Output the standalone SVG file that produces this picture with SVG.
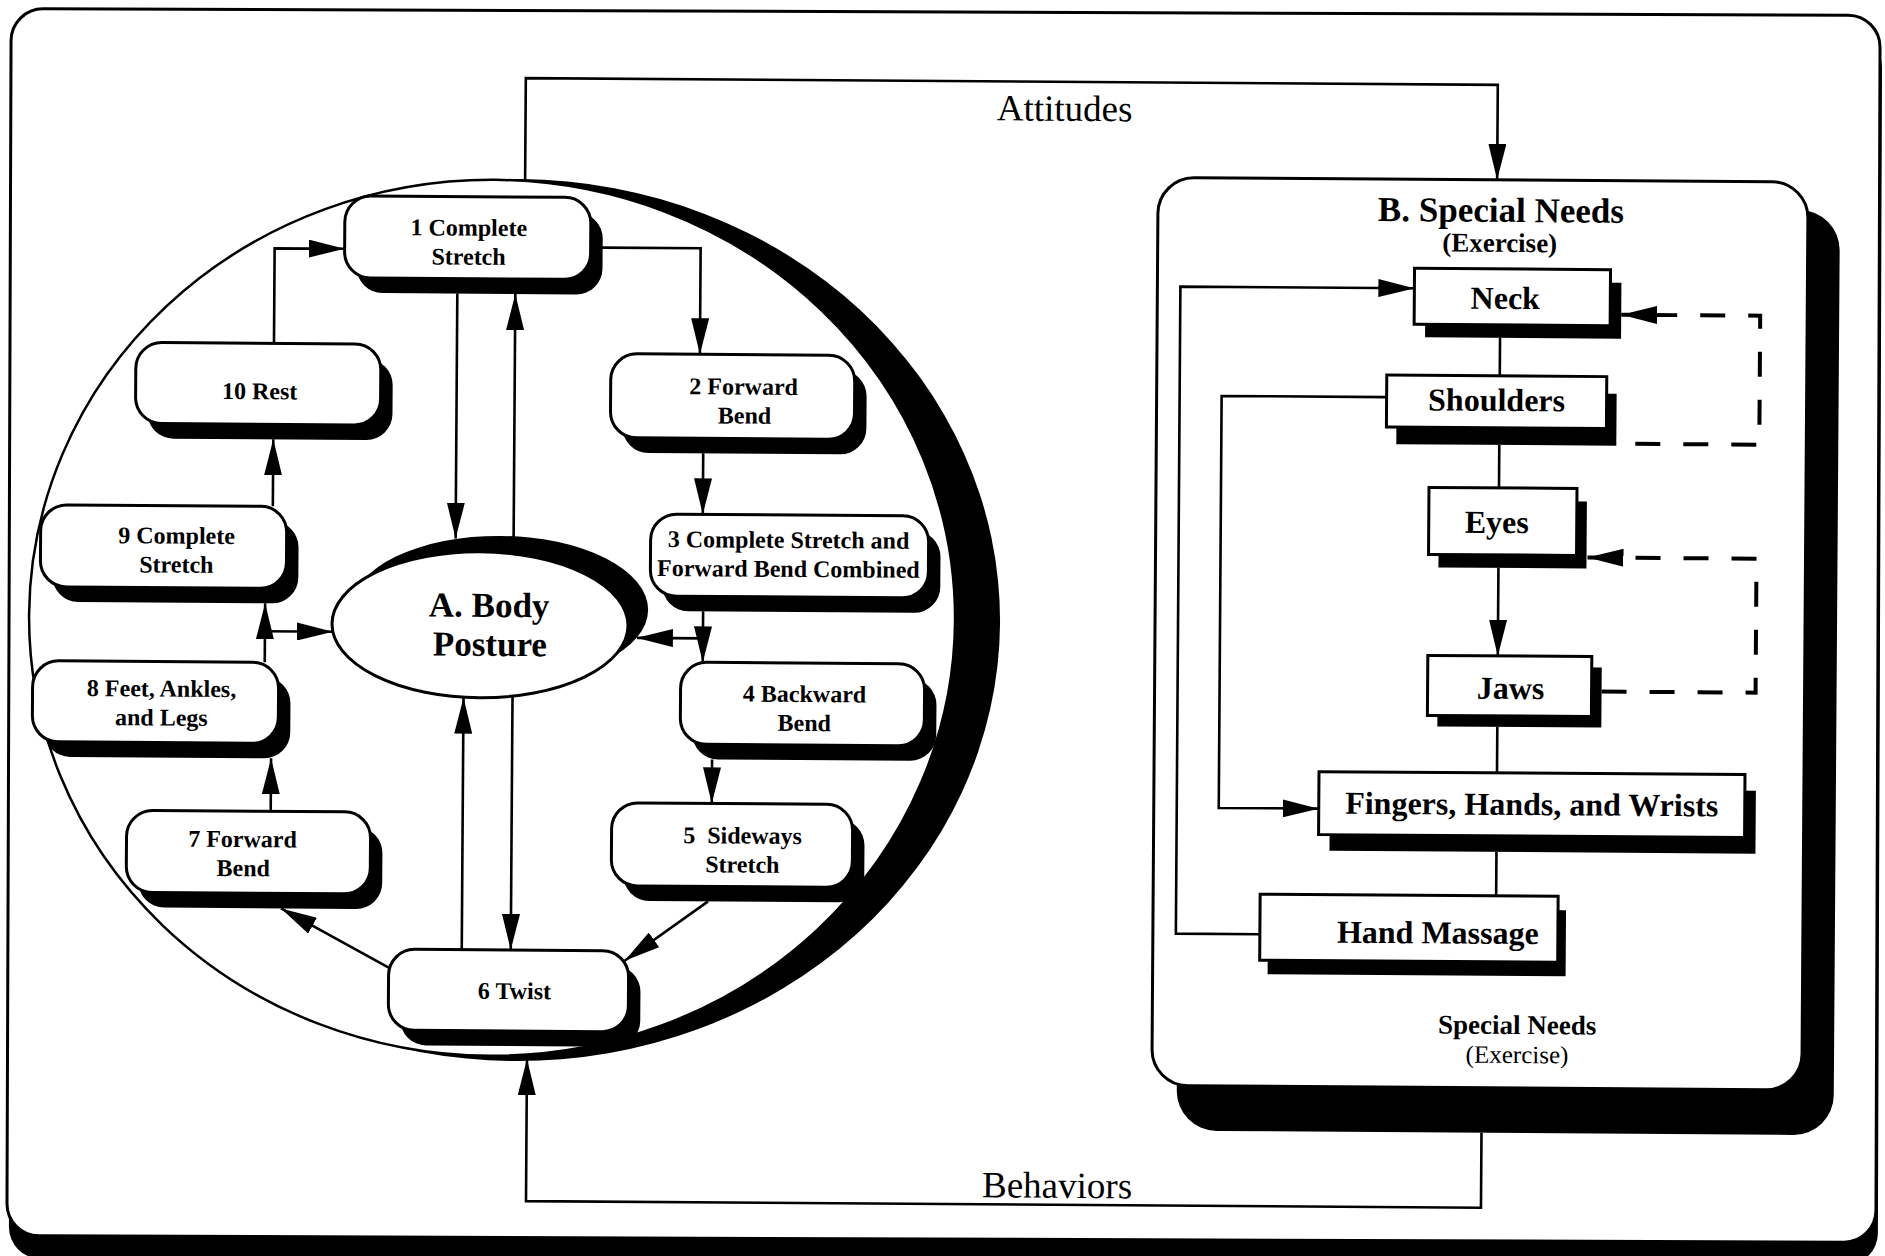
<svg xmlns="http://www.w3.org/2000/svg" width="1885" height="1256" viewBox="0 0 1885 1256">
  <defs>
    <style>
      .sh{fill:#000}
      .bx{fill:#fff;stroke:#000;stroke-width:3}
      .ln{fill:none;stroke:#000;stroke-width:2.6}
      .dash{fill:none;stroke:#000;stroke-width:4;stroke-dasharray:25 23}
      .lbl{font-family:"Liberation Serif","Times New Roman",serif;font-weight:bold;font-size:24px;text-anchor:middle;fill:#000}
      .big{font-family:"Liberation Serif","Times New Roman",serif;font-weight:bold;font-size:35px;text-anchor:middle;fill:#000}
      .part{font-family:"Liberation Serif","Times New Roman",serif;font-weight:bold;font-size:32px;text-anchor:middle;fill:#000}
      .flow{font-family:"Liberation Serif","Times New Roman",serif;font-size:37px;text-anchor:middle;fill:#000}
    </style>
    <marker id="ah" markerUnits="userSpaceOnUse" markerWidth="36" markerHeight="18" refX="36" refY="9" orient="auto" viewBox="0 0 36 18">
      <path d="M0,0 L36,9 L0,18 z" fill="#000"/>
    </marker>
  </defs>

  <rect x="0" y="0" width="1885" height="1256" fill="#fff"/>

  <!-- page frame with drop shadow -->
  <g id="frame" transform="rotate(0.2 942 628)">
    <rect x="11" y="32" width="1869" height="1230" rx="32" fill="#000"/>
    <rect x="9" y="12" width="1869" height="1227" rx="32" fill="#fff" stroke="#000" stroke-width="3"/>
  </g>

  <g transform="rotate(0.4 942 628)">
    <!-- ring holding the body posture cycle -->
    <g id="cycle-ring">
      <ellipse cx="517" cy="623" rx="483" ry="441" fill="#000"/>
      <ellipse cx="492" cy="621" rx="463" ry="438" fill="#fff" stroke="#000" stroke-width="2.5"/>
    </g>

    <!-- special needs panel -->
    <g id="special-needs">
      <rect x="1180" y="204" width="657" height="925" rx="40" fill="#000"/>
      <rect x="1155" y="176" width="650" height="908" rx="36" fill="#fff" stroke="#000" stroke-width="3"/>
      <text class="big" x="1498" y="218">B. Special Needs</text>
      <text class="lbl" x="1497" y="248" style="font-size:27px">(Exercise)</text>
      <text class="lbl" x="1520" y="1030" style="font-size:27px">Special Needs</text>
      <text class="lbl" x="1520" y="1059" style="font-size:25px;font-weight:normal">(Exercise)</text>
    </g>

    <!-- connectors -->
    <g id="connectors">
      <path class="ln" d="M455,297 V542" marker-end="url(#ah)"/>
      <path class="ln" d="M513,560 V297" marker-end="url(#ah)"/>
      <path class="ln" d="M599,250 H698 V356" marker-end="url(#ah)"/>
      <path class="ln" d="M272,348 V253 H342" marker-end="url(#ah)"/>
      <path class="ln" d="M272,511 V444" marker-end="url(#ah)"/>
      <path class="ln" d="M702,455 V516" marker-end="url(#ah)"/>
      <path class="ln" d="M703,613 V664" marker-end="url(#ah)"/>
      <path class="ln" d="M703,640 H637" marker-end="url(#ah)"/>
      <path class="ln" d="M265,667 V608" marker-end="url(#ah)"/>
      <path class="ln" d="M265,636 H333" marker-end="url(#ah)"/>
      <path class="ln" d="M272,816 V763" marker-end="url(#ah)"/>
      <path class="ln" d="M713,761 V805" marker-end="url(#ah)"/>
      <path class="ln" d="M710,903 L627,963" marker-end="url(#ah)"/>
      <path class="ln" d="M392,972 L283,913" marker-end="url(#ah)"/>
      <path class="ln" d="M513,690 V953" marker-end="url(#ah)"/>
      <path class="ln" d="M464,953 V701" marker-end="url(#ah)"/>

      <path class="ln" d="M522,184 V81 H1494 V176" marker-end="url(#ah)"/>
      <text class="flow" x="1061" y="120">Attitudes</text>
      <path class="ln" d="M1485,1129 V1204 H530 V1062" marker-end="url(#ah)"/>
      <text class="flow" x="1061" y="1197">Behaviors</text>

      <path class="ln" d="M1262,932 H1178 V285 H1412" marker-end="url(#ah)"/>
      <path class="ln" d="M1385,394 H1220 V806 H1320" marker-end="url(#ah)"/>
      <path class="ln" d="M1498,334 V372"/>
      <path class="ln" d="M1498,441 V484"/>
      <path class="ln" d="M1498,564 V652" marker-end="url(#ah)"/>
      <path class="ln" d="M1498,723 V769"/>
      <path class="ln" d="M1498,848 V892"/>
      <path class="dash" d="M1615,439 H1758 V310 H1619" stroke-dashoffset="29" marker-end="url(#ah)"/>
      <path class="dash" d="M1602,687 H1756 V553 H1587" marker-end="url(#ah)"/>
    </g>

    <!-- central posture node -->
    <g id="body-posture">
      <ellipse cx="500" cy="612" rx="148" ry="73" fill="#000"/>
      <ellipse cx="480" cy="628" rx="148" ry="73" fill="#fff" stroke="#000" stroke-width="3"/>
      <text class="big" x="489" y="620">A. Body</text>
      <text class="big" x="490" y="659">Posture</text>
    </g>

    <!-- exercise steps -->
    <g id="step1">
      <rect class="sh" x="354" y="215" width="246" height="82" rx="26"/>
      <rect class="bx" x="342" y="200" width="246" height="82" rx="26"/>
      <text class="lbl" x="466" y="239">1 Complete</text>
      <text class="lbl" x="466" y="268">Stretch</text>
    </g>
    <g id="step2">
      <rect class="sh" x="621" y="371" width="244" height="84" rx="26"/>
      <rect class="bx" x="609" y="356" width="244" height="84" rx="26"/>
      <text class="lbl" x="742" y="396">2 Forward</text>
      <text class="lbl" x="743" y="425">Bend</text>
    </g>
    <g id="step3">
      <rect class="sh" x="662" y="531" width="278" height="82" rx="26"/>
      <rect class="bx" x="650" y="516" width="278" height="82" rx="26"/>
      <text class="lbl" x="788" y="549">3 Complete Stretch and</text>
      <text class="lbl" x="788" y="578">Forward Bend Combined</text>
    </g>
    <g id="step4">
      <rect class="sh" x="693" y="679" width="244" height="82" rx="26"/>
      <rect class="bx" x="681" y="664" width="244" height="82" rx="26"/>
      <text class="lbl" x="805" y="703">4 Backward</text>
      <text class="lbl" x="805" y="732">Bend</text>
    </g>
    <g id="step5">
      <rect class="sh" x="625" y="820" width="241" height="83" rx="26"/>
      <rect class="bx" x="613" y="805" width="241" height="83" rx="26"/>
      <text class="lbl" x="744" y="845" xml:space="preserve">5  Sideways</text>
      <text class="lbl" x="744" y="874">Stretch</text>
    </g>
    <g id="step6">
      <rect class="sh" x="403" y="968" width="240" height="81" rx="26"/>
      <rect class="bx" x="391" y="953" width="240" height="81" rx="26"/>
      <text class="lbl" x="517" y="1002">6 Twist</text>
    </g>
    <g id="step7">
      <rect class="sh" x="140" y="831" width="244" height="82" rx="26"/>
      <rect class="bx" x="128" y="816" width="244" height="82" rx="26"/>
      <text class="lbl" x="244" y="852">7 Forward</text>
      <text class="lbl" x="245" y="881">Bend</text>
    </g>
    <g id="step8">
      <rect class="sh" x="45" y="682" width="246" height="81" rx="26"/>
      <rect class="bx" x="33" y="667" width="246" height="81" rx="26"/>
      <text class="lbl" x="162" y="702">8 Feet, Ankles,</text>
      <text class="lbl" x="162" y="731">and Legs</text>
    </g>
    <g id="step9">
      <rect class="sh" x="52" y="526" width="246" height="82" rx="26"/>
      <rect class="bx" x="40" y="511" width="246" height="82" rx="26"/>
      <text class="lbl" x="176" y="549">9 Complete</text>
      <text class="lbl" x="176" y="578">Stretch</text>
    </g>
    <g id="step10">
      <rect class="sh" x="146" y="363" width="245" height="81" rx="26"/>
      <rect class="bx" x="134" y="348" width="245" height="81" rx="26"/>
      <text class="lbl" x="258" y="404">10 Rest</text>
    </g>

    <!-- special needs exercises -->
    <g id="neck">
      <rect class="sh" x="1423" y="278" width="196" height="56"/>
      <rect class="bx" x="1412" y="265" width="196" height="56"/>
      <text class="part" x="1503" y="305">Neck</text>
    </g>
    <g id="shoulders">
      <rect class="sh" x="1395" y="389" width="220" height="52"/>
      <rect class="bx" x="1385" y="372" width="220" height="52"/>
      <text class="part" x="1495" y="407">Shoulders</text>
    </g>
    <g id="eyes">
      <rect class="sh" x="1438" y="497" width="148" height="67"/>
      <rect class="bx" x="1428" y="484" width="148" height="67"/>
      <text class="part" x="1496" y="529">Eyes</text>
    </g>
    <g id="jaws">
      <rect class="sh" x="1438" y="663" width="164" height="60"/>
      <rect class="bx" x="1428" y="652" width="164" height="60"/>
      <text class="part" x="1511" y="695">Jaws</text>
    </g>
    <g id="fingers">
      <rect class="sh" x="1331" y="785" width="426" height="63"/>
      <rect class="bx" x="1320" y="769" width="426" height="63"/>
      <text class="part" x="1533" y="811">Fingers, Hands, and Wrists</text>
    </g>
    <g id="hand-massage">
      <rect class="sh" x="1270" y="906" width="298" height="66"/>
      <rect class="bx" x="1262" y="892" width="298" height="66"/>
      <text class="part" x="1440" y="940">Hand Massage</text>
    </g>
  </g>
</svg>
